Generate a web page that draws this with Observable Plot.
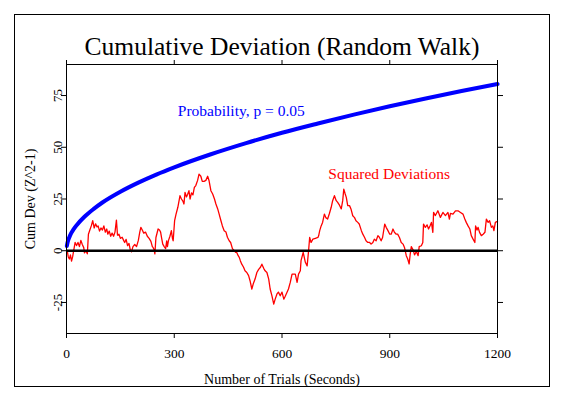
<!DOCTYPE html>
<html>
<head>
<meta charset="utf-8">
<script src="https://cdn.jsdelivr.net/npm/d3@7"></script>
<script src="https://cdn.jsdelivr.net/npm/@observablehq/plot@0.6"></script>
<style>
  html, body { margin: 0; padding: 0; background: #fff; }
  #wrap { position: relative; width: 562px; height: 396px; background: #fff; }
  #border { position: absolute; left: 14px; top: 14px; width: 534px; height: 371px; border: 1px solid #000; pointer-events: none; }
  #wrap svg { position: absolute; left: 0; top: 0; }
</style>
</head>
<body>
<div id="wrap"><div id="border"></div></div>
<script>
// ---- data ----
const titleText = "Cumulative Deviation (Random Walk)";
const xLabelText = "Number of Trials (Seconds)";
const yLabelText = "Cum Dev (Z^2-1)";
const xTicks = [0, 300, 600, 900, 1200];
const yTicks = [-25, 0, 25, 50, 75];

// Squared deviations (random walk)
const trials = [0,2,5,8,11,14,17,20,24,28,32,36,40,44,48,50,54,58,61,65,69,73,77,81,85,88,92,96,100,104,108,112,115,119,123,127,131,135,139,142,146,150,155,159,162,166,170,174,178,181,185,190,195,200,204,207,211,215,220,225,230,235,239,241,244,246,249,255,259,262,265,268,272,276,279,281,284,288,292,295,297,301,305,310,316,320,324,327,330,334,337,341,344,348,352,356,360,365,369,374,378,383,388,393,397,402,407,412,416,421,425,430,434,439,444,448,453,457,462,467,471,474,478,481,484,488,493,497,502,507,511,516,520,525,530,535,540,544,549,553,558,563,567,572,577,581,586,590,595,600,605,609,614,618,623,628,632,637,642,646,651,653,659,661,665,670,674,677,681,686,693,700,702,705,709,713,718,722,727,732,737,741,746,751,755,760,765,769,772,776,779,783,788,792,797,802,806,811,815,821,825,830,834,839,844,848,853,857,862,867,871,876,880,886,890,895,900,904,909,913,918,922,927,932,937,941,946,950,954,957,960,965,969,974,979,982,988,992,994,999,1004,1008,1012,1016,1020,1022,1027,1034,1041,1048,1055,1062,1066,1069,1076,1083,1090,1097,1104,1109,1113,1118,1123,1127,1132,1137,1139,1143,1146,1150,1155,1160,1165,1169,1174,1178,1183,1187,1190,1194,1197,1200];
const cumDev = [0,0,-3,-4,-2,-5,-3,0,4,2.5,4,2,5,3,1.5,-1,0,-1.5,8,10,12,14.5,11,13,11.5,12,9.5,11,10,12,9,10.5,8,9.5,7,8.5,7,9,14.8,7.5,8,6,6.5,5,4,5.5,2.5,3.5,0,-0.5,2,3,2,5,9,11.3,10,8.5,9,7,6,4.5,2,1.6,0.5,-1.5,6.4,10.5,10,9,6,3.2,2,1,4.8,2,5,7,9.7,6,4.8,14.5,17.7,21,26.6,25,24,22.6,28.2,26,27.2,29,25,28,27,30.6,31.5,34,37,36,33.5,33.5,34,36,33.8,29,27.4,25,22.6,20.2,17.7,14.5,12,9.7,9,6.5,4.8,4,1,0,-0.8,-0.8,-2.4,-3.2,-4.8,-6.5,-8,-9.7,-10.5,-12,-14.5,-18.5,-16,-13.7,-10.5,-9,-8,-6.5,-8.5,-9.7,-10.5,-13.7,-18.5,-21.8,-25.8,-23.4,-20.9,-20,-21.8,-20,-23.4,-22,-20.1,-18.5,-15.3,-11.3,-11.3,-11.3,-15.3,-11.3,-9.7,-4.8,-0.8,-2.4,-5.6,-7.3,0,6.4,4,5.6,6,6.4,7.2,9.7,12,13.7,17.7,16,15.3,18,21,24.2,26.6,24.2,23.4,22,20.2,24.2,29.8,27.4,25.8,21.8,21.8,20.2,16.9,16,14.5,13.7,12.9,9.7,8,6.4,4.8,4,4,3.2,4,5.6,4.8,7.3,6.5,4.8,6.4,12.9,11.3,9.7,8,8,10.5,8.9,8,8,6.4,4,3.2,1.6,-2.4,-4,-6.4,-1.6,2,0.4,-2,-0.4,-2.4,2,2.4,4,12.9,11.3,12.5,10.5,12,13.7,8.9,18.5,17,19.3,16.1,18.5,17,18.5,15.3,18,17.7,19.3,19.3,18.5,17.7,15.3,13.7,12,10.5,7.3,5.6,4,12,10,11.3,8.9,7.3,8,8.9,15.3,13.7,14.5,11.3,12,9.7,13.7,14,14];

// Probability envelope, p = 0.05
const probN = [1,3,5,10,20,30,50,75,100,150,200,250,300,400,500,600,700,800,900,1000,1100,1200];
const probValue = [2.3,4,5.2,7.4,10.4,12.7,16.4,20.1,23.3,28.5,32.9,36.8,40.3,46.5,52,57,61.5,65.8,69.8,73.6,77.2,80.6];

// annotation anchors (data units)
const probLabel = {text: "Probability, p = 0.05", n: 310, v: 65.3};
const sqLabel = {text: "Squared Deviations", n: 729, v: 34.7};

const walk = trials.map((n, i) => ({n, v: cumDev[i]}));
const envelope = probN.map((n, i) => ({n, v: probValue[i]}));

const font = "'Liberation Serif', 'Times New Roman', serif";

const chart = Plot.plot({
  width: 562,
  height: 396,
  marginLeft: 66,
  marginRight: 65,
  marginTop: 64,
  marginBottom: 63,
  style: {fontFamily: font, background: "white", color: "black"},
  x: {domain: [0, 1200], axis: null},
  y: {domain: [-40, 90], axis: null},
  marks: [
    Plot.line(walk, {x: "n", y: "v", stroke: "#ff0000", strokeWidth: 1.3}),
    Plot.ruleY([0], {stroke: "black", strokeWidth: 2.5}),
    Plot.line(envelope, {x: "n", y: "v", stroke: "#0000ff", strokeWidth: 4, curve: "monotone-x"}),
    Plot.frame({stroke: "black"}),
    Plot.axisY({anchor: "left", ticks: yTicks, tickSize: 5, tickPadding: 0, tickRotate: -90, tickFormat: d => String(d), fontSize: 13, label: null}),
    Plot.axisY({anchor: "right", ticks: yTicks, tickSize: 5, tickFormat: () => "", label: null}),
    Plot.axisX({anchor: "bottom", ticks: xTicks, tickSize: 5, tickPadding: 10, tickFormat: d => String(d), fontSize: 13.5, label: null}),
    Plot.axisX({anchor: "top", ticks: xTicks, tickSize: 5, tickFormat: () => "", label: null}),
    Plot.text([probLabel], {x: "n", y: "v", text: "text", fill: "#0000ff", fontSize: 15.5, textAnchor: "start", lineAnchor: "bottom"}),
    Plot.text([sqLabel], {x: "n", y: "v", text: "text", fill: "#ff0000", fontSize: 15.5, textAnchor: "start", lineAnchor: "bottom"}),
    Plot.text([titleText], {frameAnchor: "top", text: d => d, dy: -10, textAnchor: "middle", lineAnchor: "bottom", fontSize: 25.5}),
    Plot.text([xLabelText], {frameAnchor: "bottom", text: d => d, dy: 50, textAnchor: "middle", lineAnchor: "bottom", fontSize: 14}),
    Plot.text([yLabelText], {frameAnchor: "left", text: d => d, dx: -36, rotate: -90, textAnchor: "middle", lineAnchor: "middle", fontSize: 14})
  ]
});
document.getElementById("wrap").prepend(chart);
</script>
</body>
</html>
